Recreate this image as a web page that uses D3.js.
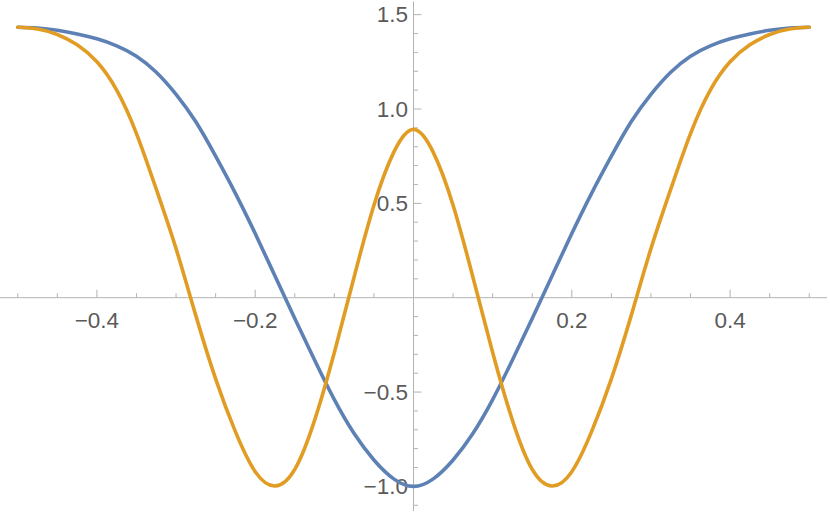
<!DOCTYPE html>
<html>
<head>
<meta charset="utf-8">
<script src="https://cdn.jsdelivr.net/npm/d3@7"></script>
<style>
  html, body { margin: 0; padding: 0; background: #fff; }
  svg { display: block; }
  .tick-label { font-family: "Liberation Sans", Arial, sans-serif; font-size: 22.5px; fill: #5a5a5a; }
</style>
</head>
<body>
<div id="chart"></div>
<script>
const WIDTH = 830;
const HEIGHT = 515;
const AXIS_COLOR = "#b3b3b3";
const BLUE = "#5e81b5";
const ORANGE = "#e19c24";

// sample positions along x (every 0.025)
const xs = [
  -0.5, -0.475, -0.45, -0.425, -0.4, -0.375, -0.35, -0.325, -0.3, -0.275,
  -0.25, -0.225, -0.2, -0.175, -0.15, -0.125, -0.1, -0.075, -0.05, -0.025,
  0,
  0.025, 0.05, 0.075, 0.1, 0.125, 0.15, 0.175, 0.2, 0.225, 0.25,
  0.275, 0.3, 0.325, 0.35, 0.375, 0.4, 0.425, 0.45, 0.475, 0.5
];

const blueValues = [
  1.433, 1.429, 1.417, 1.398, 1.372, 1.335, 1.28, 1.195, 1.078, 0.932,
  0.75, 0.553, 0.34, 0.115, -0.11, -0.33, -0.54, -0.72, -0.86, -0.96,
  -1.0,
  -0.96, -0.86, -0.72, -0.54, -0.33, -0.11, 0.115, 0.34, 0.553, 0.75,
  0.932, 1.078, 1.195, 1.28, 1.335, 1.372, 1.398, 1.417, 1.429, 1.433
];

const orangeValues = [
  1.433, 1.424, 1.395, 1.34, 1.25, 1.1, 0.87, 0.575, 0.26, -0.095,
  -0.43, -0.71, -0.922, -0.998, -0.91, -0.65, -0.29, 0.11, 0.49, 0.77,
  0.892,
  0.77, 0.49, 0.11, -0.29, -0.65, -0.91, -0.998, -0.922, -0.71, -0.43,
  -0.095, 0.26, 0.575, 0.87, 1.1, 1.25, 1.34, 1.395, 1.424, 1.433
];

const xMajorTicks = [-0.4, -0.2, 0.2, 0.4];
const xMinorTicks = [-0.5, -0.45, -0.35, -0.3, -0.25, -0.15, -0.1, -0.05,
                     0.05, 0.1, 0.15, 0.25, 0.3, 0.35, 0.45, 0.5];
const yMajorTicks = [-1.0, -0.5, 0.5, 1.0, 1.5];
const yMinorTicks = [-1.1, -0.9, -0.8, -0.7, -0.6, -0.4, -0.3, -0.2, -0.1,
                     0.1, 0.2, 0.3, 0.4, 0.6, 0.7, 0.8, 0.9, 1.1, 1.2, 1.3, 1.4];
const xTickLabels = ["\u22120.4", "\u22120.2", "0.2", "0.4"];
const yTickLabels = ["\u22121.0", "\u22120.5", "0.5", "1.0", "1.5"];

// --------------- scales ---------------
const x = d3.scaleLinear().domain([-0.5, 0.5]).range([17.75, 809.25]);
const y = d3.scaleLinear().domain([-1, 1.5]).range([486.4, 14.65]);

const svg = d3
  .select("#chart")
  .append("svg")
  .attr("width", WIDTH)
  .attr("height", HEIGHT);

// --------------- axes (Mathematica style, crossing at origin) ---------------
const axes = svg.append("g").attr("stroke", AXIS_COLOR).attr("stroke-width", 1);

axes.append("line")
  .attr("x1", 0).attr("x2", 827)
  .attr("y1", y(0)).attr("y2", y(0));

axes.append("line")
  .attr("x1", x(0)).attr("x2", x(0))
  .attr("y1", 1.5).attr("y2", 511);

// x ticks point upwards
axes.selectAll("line.xmajor")
  .data(xMajorTicks)
  .enter()
  .append("line")
  .attr("class", "xmajor")
  .attr("x1", d => x(d)).attr("x2", d => x(d))
  .attr("y1", y(0)).attr("y2", y(0) - 8);

axes.selectAll("line.xminor")
  .data(xMinorTicks)
  .enter()
  .append("line")
  .attr("class", "xminor")
  .attr("x1", d => x(d)).attr("x2", d => x(d))
  .attr("y1", y(0)).attr("y2", y(0) - 4.5);

// y ticks point right
axes.selectAll("line.ymajor")
  .data(yMajorTicks)
  .enter()
  .append("line")
  .attr("class", "ymajor")
  .attr("x1", x(0)).attr("x2", x(0) + 8)
  .attr("y1", d => y(d)).attr("y2", d => y(d));

axes.selectAll("line.yminor")
  .data(yMinorTicks)
  .enter()
  .append("line")
  .attr("class", "yminor")
  .attr("x1", x(0)).attr("x2", x(0) + 4.5)
  .attr("y1", d => y(d)).attr("y2", d => y(d));

// tick labels
svg.append("g")
  .selectAll("text")
  .data(xMajorTicks)
  .enter()
  .append("text")
  .attr("class", "tick-label")
  .attr("x", d => x(d))
  .attr("y", y(0) + 30.5)
  .attr("text-anchor", "middle")
  .text((d, i) => xTickLabels[i]);

svg.append("g")
  .selectAll("text")
  .data(yMajorTicks)
  .enter()
  .append("text")
  .attr("class", "tick-label")
  .attr("x", x(0) - 5.5)
  .attr("y", d => y(d) + 7.5)
  .attr("text-anchor", "end")
  .text((d, i) => yTickLabels[i]);

// --------------- curves ---------------
const line = d3.line()
  .x((d, i) => x(xs[i]))
  .y(d => y(d))
  .curve(d3.curveNatural);

svg.append("path")
  .datum(blueValues)
  .attr("d", line)
  .attr("fill", "none")
  .attr("stroke", BLUE)
  .attr("stroke-width", 3.6)
  .attr("stroke-linecap", "round");

svg.append("path")
  .datum(orangeValues)
  .attr("d", line)
  .attr("fill", "none")
  .attr("stroke", ORANGE)
  .attr("stroke-width", 3.6)
  .attr("stroke-linecap", "round");
</script>
</body>
</html>
